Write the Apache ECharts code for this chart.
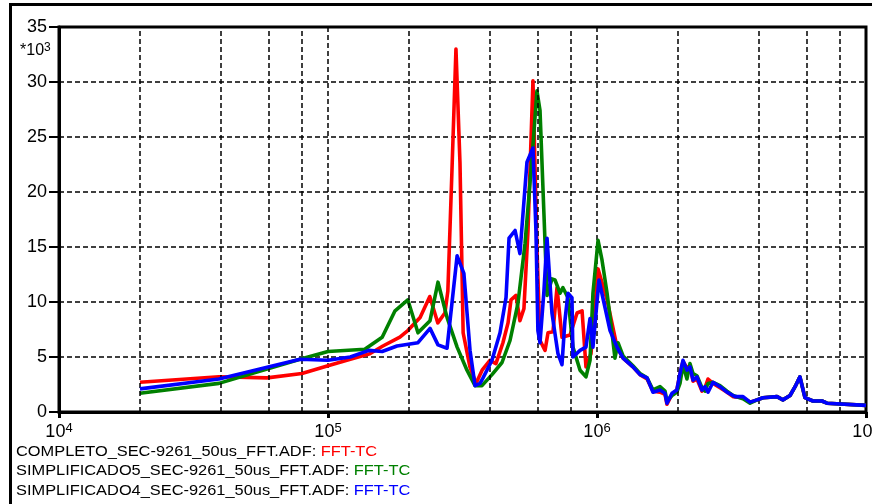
<!DOCTYPE html>
<html>
<head>
<meta charset="utf-8">
<script src="https://cdn.jsdelivr.net/npm/echarts@6/dist/echarts.min.js"></script>
<style>
  html, body { margin: 0; padding: 0; background: #fff; }
  #chart { width: 872px; height: 504px; }
</style>
</head>
<body>
<div id="chart"></div>
<script>
// series names / legend
var seriesNames = ['COMPLETO_SEC-9261_50us_FFT.ADF', 'SIMPLIFICADO5_SEC-9261_50us_FFT.ADF', 'SIMPLIFICADO4_SEC-9261_50us_FFT.ADF'];
var seriesColors = ['#ff0000', '#008000', '#0000ff'];
var signalName = 'FFT-TC';

// y ticks (*10^3)
var yTicks = [0, 5, 10, 15, 20, 25, 30, 35];
// dashed grid positions between decades
var minorGrid = [2e4, 4e4, 6e4, 8e4, 2e5, 4e5, 6e5, 8e5, 2e6, 4e6, 6e6, 8e6];

// tail shared shape above ~3.7 MHz
var tailData = [[3.934e6,1.1],[4.14e6,1.3],[4.67e6,1.4],[4.91e6,1.1],[5.22e6,1.5],[5.45e6,2.3],[5.68e6,3.2],[5.93e6,1.3],[6.35e6,1.0],[6.86e6,1.0],[7.16e6,0.8],[1.0e7,0.6]];

// COMPLETO (red)
var completoData = [[2.0e4,2.7],[3.93e4,3.2],[5.93e4,3.1],[8.0e4,3.5],[1.0e5,4.2],[1.21e5,4.8],[1.43e5,5.3],[1.6e5,6.0],[1.85e5,6.8],[1.98e5,7.4],
  [2.2e5,8.6],[2.39e5,10.5],[2.56e5,8.1],[2.72e5,9.0],[2.79e5,11.0],[2.89e5,22.0],[2.99e5,33.0],[3.095e5,22.6],[3.18e5,7.2],[3.37e5,4.1],
  [3.55e5,2.6],[3.74e5,3.8],[4.0e5,4.7],[4.21e5,4.4],[4.47e5,6.3],[4.67e5,8.1],[4.79e5,10.2],[5.0e5,10.6],[5.17e5,8.3],[5.35e5,9.4],
  [5.54e5,16.5],[5.78e5,30.1],[5.98e5,15.0],[6.14e5,6.5],[6.41e5,5.6],[6.575e5,7.2],[6.86e5,7.3],[7.10e5,11.3],[7.41e5,6.8],[7.94e5,7.0],
  [8.43e5,9.0],[8.80e5,9.2],[9.10e5,4.1],[9.5e5,5.3],[1.009e6,13.0],[1.09e6,10.2],[1.166e6,6.8],[1.187e6,5.9],[1.25e6,4.9],[1.36e6,4.1],
  [1.445e6,3.4],[1.535e6,3.0],[1.615e6,1.9],[1.715e6,1.8],[1.79e6,1.6],[1.82e6,0.7],[1.90e6,1.6],[1.98e6,2.0],[2.035e6,3.5],[2.088e6,4.6],
  [2.16e6,4.0],[2.216e6,4.2],[2.275e6,2.8],[2.353e6,3.0],[2.456e6,1.9],[2.52e6,2.2],[2.586e6,3.0],[2.70e6,2.6],[2.866e6,2.2],[3.043e6,1.8],
  [3.203e6,1.4],[3.49e6,1.3],[3.707e6,0.9]].concat(tailData);

// SIMPLIFICADO5 (green)
var simp5Data = [[2.0e4,1.7],[3.93e4,2.6],[7.87e4,4.8],[1.0e5,5.5],[1.37e5,5.7],[1.59e5,6.8],[1.775e5,9.2],[1.98e5,10.2],[2.16e5,7.2],[2.395e5,8.3],
  [2.564e5,11.8],[2.77e5,8.6],[3.02e5,5.9],[3.286e5,3.8],[3.52e5,2.4],[3.737e5,2.4],[4.07e5,3.4],[4.435e5,4.5],[4.75e5,6.5],[5.085e5,9.9],
  [5.40e5,15.3],[5.735e5,23.1],[5.98e5,29.2],[6.14e5,27.4],[6.35e5,18.0],[6.52e5,10.6],[6.80e5,12.1],[6.98e5,12.0],[7.29e5,10.8],[7.47e5,11.3],
  [7.80e5,10.4],[8.14e5,5.9],[8.65e5,3.8],[9.10e5,3.2],[9.42e5,4.7],[9.66e5,10.8],[1.009e6,15.6],[1.044e6,13.8],[1.09e6,10.8],[1.137e6,7.2],
  [1.166e6,4.9],[1.197e6,6.3],[1.25e6,5.1],[1.36e6,4.2],[1.445e6,3.5],[1.535e6,3.1],[1.615e6,2.0],[1.715e6,2.3],[1.79e6,1.9],[1.82e6,1.0],
  [1.90e6,1.5],[1.98e6,1.8],[2.035e6,2.6],[2.088e6,4.3],[2.16e6,3.0],[2.216e6,4.4],[2.275e6,3.5],[2.353e6,3.3],[2.456e6,2.2],[2.52e6,1.9],
  [2.586e6,2.6],[2.70e6,2.7],[2.866e6,2.4],[3.043e6,1.9],[3.203e6,1.5],[3.49e6,1.2],[3.707e6,0.8]].concat(tailData);

// SIMPLIFICADO4 (blue)
var simp4Data = [[2.0e4,2.1],[3.93e4,3.0],[7.87e4,4.8],[1.0e5,4.7],[1.21e5,5.0],[1.42e5,5.6],[1.59e5,5.5],[1.805e5,6.0],[2.16e5,6.3],[2.395e5,7.6],
  [2.564e5,6.1],[2.77e5,5.8],[3.02e5,14.2],[3.20e5,12.6],[3.373e5,5.6],[3.52e5,2.4],[3.675e5,2.6],[3.77e5,3.1],[4.07e5,4.7],[4.36e5,7.2],
  [4.59e5,10.4],[4.71e5,15.8],[4.96e5,16.5],[5.17e5,14.4],[5.49e5,22.7],[5.78e5,24.0],[5.93e5,16.5],[6.03e5,7.4],[6.14e5,6.3],[6.35e5,11.0],
  [6.52e5,15.8],[6.80e5,9.0],[7.16e5,5.3],[7.41e5,4.3],[7.60e5,8.3],[7.80e5,10.8],[8.07e5,10.4],[8.14e5,5.0],[8.65e5,5.6],[9.10e5,5.9],
  [9.42e5,8.5],[9.58e5,8.6],[9.66e5,5.9],[1.017e6,12.0],[1.071e6,9.5],[1.118e6,7.4],[1.187e6,5.9],[1.25e6,4.9],[1.36e6,4.1],[1.445e6,3.4],
  [1.535e6,3.1],[1.615e6,1.8],[1.715e6,2.0],[1.79e6,1.7],[1.82e6,0.8],[1.90e6,1.7],[1.98e6,2.0],[2.035e6,3.5],[2.088e6,4.7],[2.16e6,3.8],
  [2.216e6,4.1],[2.275e6,2.9],[2.353e6,3.2],[2.456e6,2.0],[2.52e6,2.3],[2.586e6,1.8],[2.70e6,2.7],[2.866e6,2.3],[3.043e6,1.8],[3.203e6,1.5],
  [3.26e6,1.4],[3.49e6,1.4],[3.707e6,0.9]].concat(tailData);

var allData = [completoData, simp5Data, simp4Data];

window.onload = function(){
    fftChart();
}

//FFT chart
function fftChart(){
    var chart = echarts.init(document.getElementById('chart'));
    var font = 'Liberation Sans, Arial, sans-serif';
    var dash = [5, 3];

    var series = [{
        // only carries the dashed vertical grid
        type: 'line',
        data: [[1e4, 0]],
        showSymbol: false,
        lineStyle: {opacity: 0},
        z: 1,
        silent: true,
        markLine: {
            silent: true,
            symbol: ['none', 'none'],
            label: {show: false},
            lineStyle: {color: '#000', type: dash, width: 1.5},
            data: minorGrid.map(function(v){ return {xAxis: v}; }),
            animation: false
        }
    }];
    for (var i = 0; i < allData.length; i++) {
        series.push({
            name: seriesNames[i],
            type: 'line',
            data: allData[i],
            showSymbol: false,
            z: 3 + i,
            lineStyle: {color: seriesColors[i], width: 3.6, join: 'round'},
            itemStyle: {color: seriesColors[i]}
        });
    }

    // legend lines as text (a bit stretched, like the original)
    var legendTexts = seriesNames.map(function(n, i){
        return {
            type: 'text',
            x: 16,
            y: 444 + i * 19.5,
            scaleX: 1.13,
            style: {
                text: '{k|' + n + ': }{c' + i + '|' + signalName + '}',
                rich: {
                    k: {fontFamily: font, fontSize: 14.5, fill: '#000'},
                    c0: {fontFamily: font, fontSize: 14.5, fill: seriesColors[0]},
                    c1: {fontFamily: font, fontSize: 14.5, fill: seriesColors[1]},
                    c2: {fontFamily: font, fontSize: 14.5, fill: seriesColors[2]}
                }
            }
        };
    });

    var option = {
        animation: false,
        grid: {
            left: 59, right: 6, top: 27, bottom: 92,
            outerBoundsMode: 'none',
            containLabel: false,
            show: true, borderColor: '#000', borderWidth: 3
        },
        xAxis: {
            type: 'log',
            logBase: 10,
            min: 1e4,
            max: 1e7,
            axisLine: {lineStyle: {color: '#000', width: 3}},
            axisTick: {show: true, length: 6, lineStyle: {color: '#000', width: 3}},
            minorTick: {show: false},
            splitLine: {show: true, lineStyle: {color: '#000', type: dash, width: 1.5}},
            axisLabel: {
                margin: 10,
                hideOverlap: false,
                formatter: function(v){
                    return '{b|10}{s|' + Math.round(Math.log10(v)) + '}';
                },
                rich: {
                    b: {fontFamily: font, fontSize: 18, color: '#000', lineHeight: 20},
                    s: {fontFamily: font, fontSize: 13, color: '#000', verticalAlign: 'top', lineHeight: 12}
                }
            }
        },
        yAxis: {
            type: 'value',
            min: 0,
            max: 35,
            interval: 5,
            axisLine: {show: true, lineStyle: {color: '#000', width: 3}},
            axisTick: {show: true, length: 10, lineStyle: {color: '#000', width: 2}},
            splitLine: {show: true, lineStyle: {color: '#000', type: dash, width: 1.5}},
            axisLabel: {
                margin: 12,
                fontFamily: font,
                fontSize: 18,
                color: '#000',
                formatter: function(v){ return yTicks.indexOf(v) >= 0 ? String(v) : ''; }
            }
        },
        graphic: [{
            type: 'rect',
            shape: {x: 10.5, y: 4.5, width: 900, height: 600},
            style: {fill: 'none', stroke: '#000', lineWidth: 3},
            silent: true
        }, {
            type: 'text',
            left: 20,
            top: 42,
            style: {
                text: '{b|*10}{s|3}',
                rich: {
                    b: {fontFamily: font, fontSize: 16, fill: '#000', lineHeight: 18},
                    s: {fontFamily: font, fontSize: 12, fill: '#000', verticalAlign: 'top', lineHeight: 11}
                }
            }
        }].concat(legendTexts),
        series: series
    };
    chart.setOption(option);
}
</script>
</body>
</html>
